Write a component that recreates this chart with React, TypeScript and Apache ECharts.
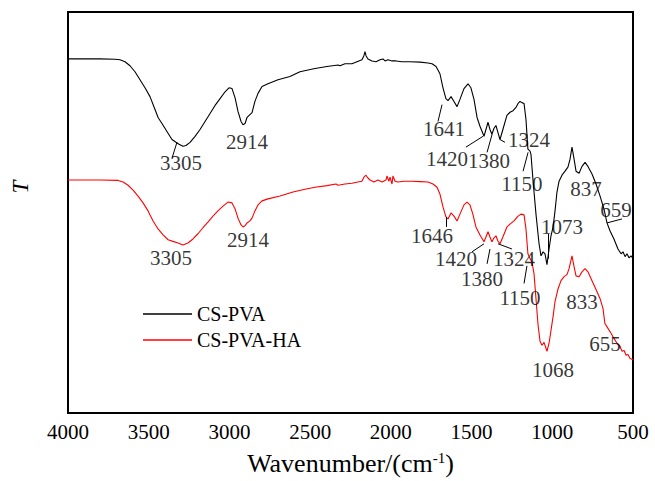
import { useEffect, useRef } from "react";
import * as echarts from "echarts";

// Transmittance spectra (wavenumber in cm^-1, relative transmittance)
const csPva: [number, number][] = [
  [4000, 88.3], [3802, 88.3], [3709, 88.2], [3678, 88.1], [3647, 87.6], [3616, 86.6],
  [3585, 85.1], [3554, 83.1], [3523, 81.1], [3492, 78.9], [3461, 75.7], [3442, 73.7],
  [3418, 72.2], [3387, 70.2], [3356, 68.2], [3331, 67.5], [3312, 67.0], [3288, 66.5],
  [3269, 66.7], [3244, 67.5], [3213, 69.0], [3182, 70.7], [3151, 72.7], [3120, 74.7],
  [3089, 76.7], [3058, 78.4], [3027, 80.1], [3003, 81.1], [2984, 80.9], [2965, 78.6],
  [2947, 75.2], [2928, 72.7], [2916, 71.9], [2903, 72.2], [2891, 73.7], [2873, 74.4],
  [2860, 74.9], [2842, 77.7], [2823, 79.7], [2798, 81.4], [2761, 82.1], [2699, 83.1],
  [2625, 83.9], [2563, 85.1], [2470, 85.9], [2396, 86.4], [2327, 86.8], [2315, 86.6],
  [2284, 87.1], [2241, 87.1], [2210, 87.6], [2179, 88.1], [2167, 89.1], [2160, 90.1],
  [2154, 89.1], [2142, 88.3], [2117, 87.8], [2092, 87.6], [2067, 88.1], [2049, 88.3],
  [2036, 87.8], [2018, 88.1], [1993, 87.8], [1968, 87.8], [1931, 87.6], [1881, 87.6],
  [1819, 87.5], [1770, 87.3], [1745, 87.1], [1720, 86.4], [1696, 84.6], [1677, 81.1],
  [1659, 78.4], [1646, 77.9], [1627, 78.9], [1609, 77.7], [1590, 76.4], [1572, 78.2],
  [1547, 80.9], [1522, 82.1], [1504, 81.1], [1485, 78.2], [1466, 73.7], [1448, 71.5],
  [1423, 69.0], [1411, 70.7], [1398, 72.5], [1386, 70.7], [1374, 69.5], [1361, 71.0],
  [1349, 71.7], [1337, 70.0], [1324, 68.2], [1306, 70.7], [1281, 74.2], [1262, 75.0],
  [1243, 75.4], [1225, 76.2], [1212, 77.2], [1200, 77.7], [1188, 77.4], [1175, 77.2],
  [1163, 73.2], [1151, 65.8], [1138, 65.3], [1132, 64.5], [1120, 58.3], [1101, 49.6],
  [1082, 42.2], [1070, 39.2], [1057, 40.2], [1045, 39.7], [1033, 37.0], [1020, 40.9],
  [1008, 44.2], [995, 46.4], [983, 50.4], [971, 55.1], [958, 57.8], [940, 59.3],
  [921, 60.3], [903, 61.3], [890, 63.3], [878, 66.3], [865, 63.3], [853, 60.3],
  [834, 59.8], [816, 61.5], [797, 62.5], [779, 61.5], [754, 59.6], [729, 57.1],
  [704, 54.1], [680, 50.9], [661, 47.4], [642, 45.4], [618, 43.4], [593, 40.9],
  [574, 39.7], [562, 40.2], [549, 39.0], [537, 39.7], [525, 38.7], [512, 39.2], [500, 38.5],
];

const csPvaHa: [number, number][] = [
  [4000, 58.1], [3802, 58.1], [3690, 58.0], [3659, 57.6], [3628, 56.8], [3597, 55.6],
  [3566, 54.1], [3535, 52.4], [3504, 50.4], [3473, 47.9], [3442, 45.9], [3411, 44.4],
  [3380, 43.2], [3350, 42.8], [3318, 42.4], [3288, 41.9], [3257, 42.4], [3226, 43.4],
  [3195, 44.7], [3164, 46.2], [3133, 47.6], [3102, 49.1], [3071, 50.4], [3040, 51.6],
  [3009, 52.6], [2984, 52.4], [2965, 50.9], [2947, 48.6], [2928, 46.9], [2916, 46.4],
  [2903, 46.7], [2891, 47.4], [2873, 47.9], [2860, 48.6], [2842, 50.4], [2823, 51.9],
  [2798, 52.9], [2761, 53.4], [2687, 54.1], [2606, 55.1], [2532, 55.8], [2470, 56.3],
  [2396, 56.7], [2340, 57.1], [2327, 56.8], [2284, 57.1], [2241, 57.3], [2204, 57.6],
  [2179, 57.8], [2167, 58.8], [2154, 59.3], [2142, 58.6], [2129, 58.1], [2105, 57.6],
  [2080, 58.1], [2055, 57.6], [2030, 58.1], [2024, 59.1], [2012, 57.8], [2005, 58.8],
  [1993, 57.1], [1987, 59.1], [1974, 57.8], [1956, 57.6], [1919, 57.8], [1869, 57.8],
  [1819, 57.7], [1770, 57.6], [1739, 57.1], [1714, 56.3], [1696, 54.6], [1677, 51.4],
  [1659, 48.9], [1646, 48.4], [1627, 49.9], [1609, 49.1], [1590, 47.9], [1572, 49.6],
  [1547, 51.9], [1528, 52.6], [1510, 51.9], [1492, 49.6], [1473, 46.4], [1448, 44.4],
  [1423, 42.7], [1411, 43.9], [1398, 45.2], [1386, 43.9], [1374, 42.7], [1361, 43.7],
  [1349, 44.2], [1337, 42.9], [1324, 42.2], [1306, 43.9], [1281, 46.4], [1262, 47.1],
  [1237, 47.9], [1212, 49.1], [1194, 49.6], [1175, 49.4], [1163, 45.9], [1151, 39.7],
  [1138, 38.5], [1126, 37.7], [1113, 34.7], [1101, 28.5], [1089, 22.3], [1076, 17.9],
  [1064, 16.9], [1051, 17.6], [1033, 15.4], [1020, 17.4], [1008, 20.6], [995, 24.1],
  [983, 27.8], [964, 31.0], [946, 33.0], [927, 34.0], [909, 34.5], [896, 36.0],
  [878, 39.2], [865, 36.5], [853, 34.2], [834, 34.0], [816, 35.2], [797, 36.0],
  [779, 35.2], [754, 33.0], [729, 30.8], [704, 28.5], [686, 26.1], [674, 22.3],
  [655, 21.1], [636, 19.9], [618, 18.6], [599, 17.4], [580, 16.6], [568, 15.4],
  [555, 15.6], [543, 14.4], [531, 14.6], [518, 13.6], [506, 13.4], [500, 13.2],
];

// Peak annotations: [label, wavenumber, transmittance] of the text centre
const csPvaPeaks: [string, number, number][] = [
  ["3305", 3300, 62.3], ["2914", 2891, 67.7], ["1641", 1671, 70.7], ["1420", 1652, 63.3],
  ["1380", 1392, 62.8], ["1324", 1144, 68.2], ["1150", 1188, 57.1], ["837", 791, 55.8],
  ["659", 605, 50.6], ["1073", 940, 46.4],
];
const csPvaHaPeaks: [string, number, number][] = [
  ["3305", 3362, 38.7], ["2914", 2885, 43.2], ["1646", 1745, 44.2], ["1420", 1596, 38.5],
  ["1324", 1237, 38.5], ["1380", 1435, 33.3], ["1150", 1200, 28.8], ["833", 816, 27.8],
  ["655", 673, 17.1], ["1068", 995, 10.7],
];

// Leader lines: [wn1, t1, wn2, t2]
const leaderLines: [number, number, number, number][] = [
  [3325, 67.5, 3356, 63.5], [1683, 76.9, 1708, 72.7], [1535, 66.3, 1429, 69.0],
  [1404, 65.0, 1373, 69.5], [1324, 68.2, 1293, 67.5], [1181, 60.3, 1150, 65.0],
  [661, 47.4, 568, 48.4], [1026, 44.7, 1026, 38.5],
  [1658, 48.9, 1658, 46.4], [1497, 40.2, 1423, 42.2], [1404, 37.2, 1386, 40.9],
  [1336, 42.2, 1250, 40.9], [1175, 32.3, 1157, 36.7],
];

const seriesNames = ["CS-PVA", "CS-PVA-HA"];
const seriesColors = ["#000000", "#ff0000"];

const FONT = "'Liberation Serif', 'Times New Roman', serif";

export default function App() {
  const ref = useRef<HTMLDivElement>(null);

  useEffect(() => {
    document.body.style.margin = "0";
    if (!ref.current) return;
    const chart = echarts.init(ref.current, undefined, { renderer: "svg" });

    const peakSeries = (peaks: [string, number, number][]) => ({
      type: "scatter",
      silent: true,
      symbolSize: 0,
      data: peaks.map(([text, wn, t]) => ({ value: [wn, t], name: text })),
      label: {
        show: true,
        position: "inside",
        formatter: (p: any) => p.name,
        color: "#000",
        fontSize: 21,
        fontFamily: FONT,
      },
      z: 5,
    });

    chart.setOption({
      animation: false,
      backgroundColor: "#fff",
      grid: {
        left: 68,
        right: 22,
        top: 12,
        bottom: 66,
        show: true,
        borderColor: "#000",
        borderWidth: 2,
        backgroundColor: "transparent",
      },
      legend: {
        data: seriesNames,
        orient: "vertical",
        left: 143,
        top: 304,
        padding: 0,
        icon: "rect",
        itemWidth: 49,
        itemHeight: 1.5,
        itemGap: 6,
        textStyle: { fontSize: 20, fontFamily: FONT, color: "#000" },
      },
      graphic: [
        {
          type: "text",
          x: 20,
          y: 187,
          rotation: Math.PI / 2,
          style: {
            text: "T",
            fontSize: 23,
            fontStyle: "italic",
            fontFamily: FONT,
            fill: "#000",
            textAlign: "center",
            textVerticalAlign: "middle",
          },
        },
      ],
      xAxis: {
        type: "value",
        inverse: true,
        min: 500,
        max: 4000,
        interval: 500,
        axisLine: { show: false },
        axisTick: { show: false },
        splitLine: { show: false },
        axisLabel: {
          fontSize: 21,
          fontFamily: FONT,
          color: "#000",
          margin: 8,
          formatter: (v: number) => String(v),
        },
        name: "Wavenumber/(cm{sup|-1})",
        nameLocation: "middle",
        nameGap: 37,
        nameTextStyle: {
          fontSize: 26,
          fontFamily: FONT,
          color: "#000",
          rich: {
            sup: { fontSize: 15, fontFamily: FONT, color: "#000", verticalAlign: "top" },
          },
        },
      },
      yAxis: {
        type: "value",
        min: 0,
        max: 100,
        axisLine: { show: false },
        axisTick: { show: false },
        axisLabel: { show: false },
        splitLine: { show: false },
      },
      series: [
        {
          name: seriesNames[0],
          type: "line",
          data: csPva,
          showSymbol: false,
          symbol: "none",
          color: seriesColors[0],
          lineStyle: { width: 1.1, color: seriesColors[0] },
          z: 3,
        },
        {
          name: seriesNames[1],
          type: "line",
          data: csPvaHa,
          showSymbol: false,
          symbol: "none",
          color: seriesColors[1],
          lineStyle: { width: 1.1, color: seriesColors[1] },
          z: 3,
        },
        {
          type: "lines",
          coordinateSystem: "cartesian2d",
          silent: true,
          lineStyle: { color: "#000", width: 1, opacity: 1 },
          data: leaderLines.map(([a, b, c, d]) => ({ coords: [[a, b], [c, d]] })),
          z: 4,
        },
        peakSeries(csPvaPeaks),
        peakSeries(csPvaHaPeaks),
      ],
    });

    return () => chart.dispose();
  }, []);

  return <div ref={ref} style={{ width: 655, height: 481 }} />;
}
